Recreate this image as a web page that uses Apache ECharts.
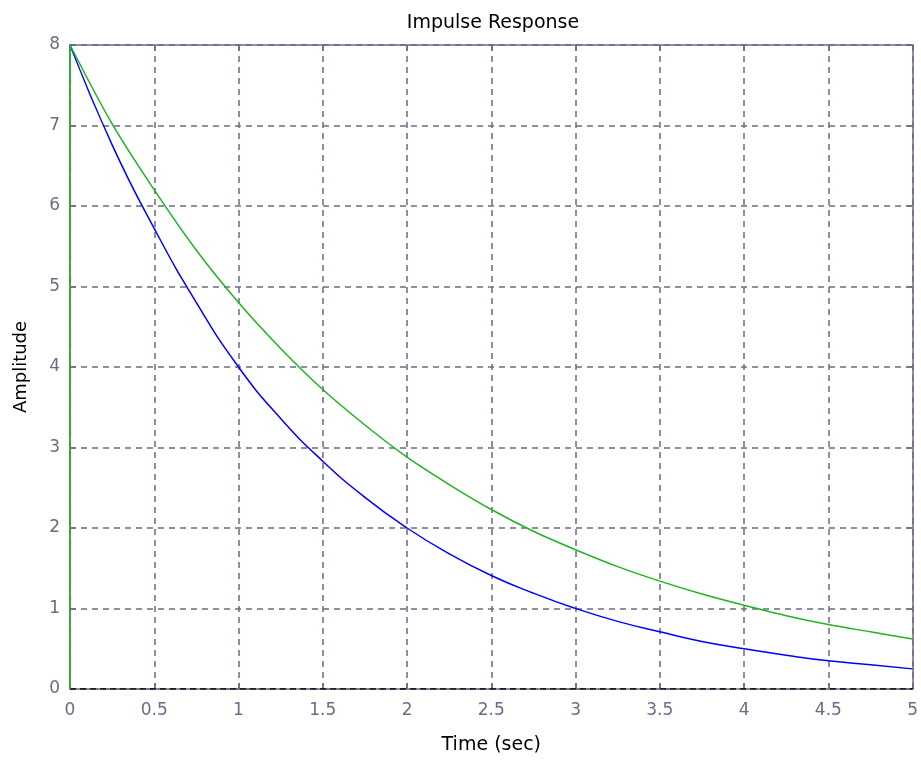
<!DOCTYPE html>
<html>
<head>
<meta charset="utf-8">
<script src="https://cdn.jsdelivr.net/npm/echarts@6/dist/echarts.min.js"></script>
<style>
html, body { margin: 0; padding: 0; background: #fff; }
#chart { width: 921px; height: 760px; }
</style>
</head>
<body>
<div id="chart"></div>
<script>
var timeSec = [0, 0.25, 0.5, 0.75, 1, 1.25, 1.5, 1.75, 2, 2.25, 2.5, 2.75, 3, 3.25, 3.5, 3.75, 4, 4.25, 4.5, 4.75, 5];
var blueAmp = [8, 6.76, 5.72, 4.80, 4.0, 3.36, 2.83, 2.38, 2.0, 1.68, 1.41, 1.19, 1.0, 0.84, 0.71, 0.59, 0.5, 0.42, 0.35, 0.30, 0.25];
var greenAmp = [8, 7.02, 6.20, 5.45, 4.80, 4.23, 3.72, 3.28, 2.88, 2.54, 2.23, 1.96, 1.73, 1.52, 1.34, 1.18, 1.04, 0.91, 0.80, 0.71, 0.62];
var xTicks = [0, 0.5, 1, 1.5, 2, 2.5, 3, 3.5, 4, 4.5, 5];
var yTicks = [0, 1, 2, 3, 4, 5, 6, 7, 8];

var axisCol = '#6b6b85';
var font = 'DejaVu Sans, Verdana, sans-serif';

function pairs(xs, ys) {
    var out = [];
    for (var i = 0; i < xs.length; i++) out.push([xs[i], ys[i]]);
    return out;
}

var blueData = pairs(timeSec, blueAmp);
// green response also has the jump from 0 at t = 0
var greenData = [[timeSec[0], 0]].concat(pairs(timeSec, greenAmp));

var chartDom = document.getElementById('chart');
var myChart = echarts.init(chartDom);
var option = {
    backgroundColor: '#fff',
    animation: false,
    title: {
        text: 'Impulse Response',
        left: 488, top: 9, textAlign: 'center',
        textStyle: { fontFamily: font, fontSize: 19, fontWeight: 'normal', color: '#000' }
    },
    grid: { left: 70, right: 8, top: 45, bottom: 70, containLabel: false },
    xAxis: [{
        type: 'value', min: 0, max: 5, interval: 0.5,
        name: 'Time (sec)', nameLocation: 'middle', nameGap: 47,
        nameTextStyle: { fontFamily: font, fontSize: 19, color: '#000' },
        axisLine: { onZero: false, lineStyle: { color: axisCol, width: 1.5 } },
        axisTick: { inside: true, length: 6, lineStyle: { color: axisCol, width: 1.5 } },
        axisLabel: { fontFamily: font, fontSize: 17, color: axisCol, margin: 13,
            formatter: function (v) { return xTicks.indexOf(v) >= 0 ? String(v) : ''; } },
        splitLine: { show: true, lineStyle: { color: axisCol, type: [6, 5], width: 1.5 } }
    }, {
        type: 'value', min: 0, max: 5, interval: 0.5, position: 'top',
        axisLine: { onZero: false, lineStyle: { color: axisCol, width: 1.5 } },
        axisTick: { inside: true, length: 6, lineStyle: { color: axisCol, width: 1.5 } },
        axisLabel: { show: false }, splitLine: { show: false }
    }],
    yAxis: [{
        type: 'value', min: 0, max: 8, interval: 1,
        name: 'Amplitude', nameLocation: 'middle', nameGap: 40, nameRotate: 90,
        nameTextStyle: { fontFamily: font, fontSize: 18, color: '#000' },
        axisLine: { show: true, onZero: false, lineStyle: { color: axisCol, width: 1.5 } },
        axisTick: { show: true, inside: true, length: 6, lineStyle: { color: axisCol, width: 1.5 } },
        axisLabel: { fontFamily: font, fontSize: 17, color: axisCol, margin: 10 },
        splitLine: { show: true, lineStyle: { color: axisCol, type: [6, 5], width: 1.5 } }
    }, {
        type: 'value', min: 0, max: 8, interval: 1, position: 'right',
        axisLine: { show: true, onZero: false, lineStyle: { color: axisCol, width: 1.5 } },
        axisTick: { show: true, inside: true, length: 6, lineStyle: { color: axisCol, width: 1.5 } },
        axisLabel: { show: false }, splitLine: { show: false }
    }],
    series: [
        {
            type: 'line', data: [[0, 0], [5, 0]], symbol: 'none', silent: true,
            lineStyle: { color: '#000', width: 1.5, type: [6, 4] }
        },
        {
            type: 'line', data: blueData, symbol: 'none', smooth: true,
            lineStyle: { color: '#0000ff', width: 1.5 }
        },
        {
            type: 'line', data: greenData, symbol: 'none', smooth: 0.3,
            lineStyle: { color: '#1fb51f', width: 1.5 }
        }
    ]
};
myChart.setOption(option);
window.addEventListener('resize', function () {
    myChart.resize();
});
</script>
</body>
</html>
